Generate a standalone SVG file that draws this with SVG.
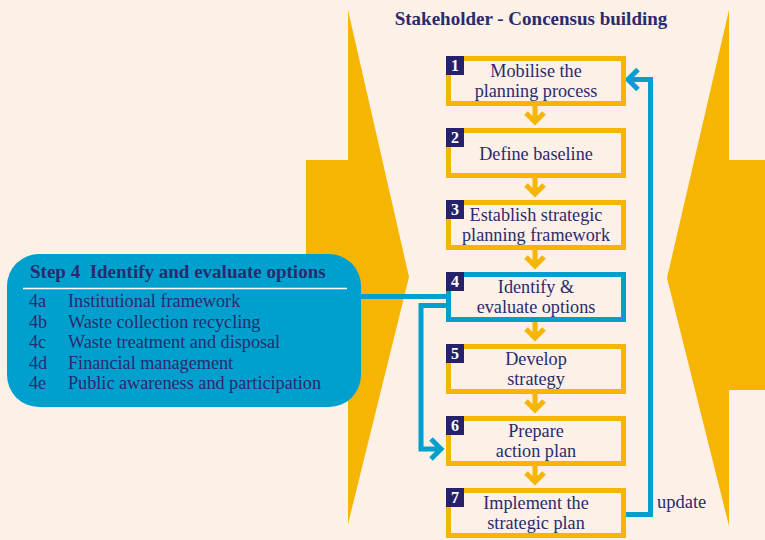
<svg xmlns="http://www.w3.org/2000/svg" width="765" height="540" viewBox="0 0 765 540">
<style>
.bg{fill:#FDF0E6}
.yel{fill:#F6B500}
.box{fill:none;stroke:#F6B500;stroke-width:5}
.boxb{fill:none;stroke:#00A0CE;stroke-width:5}
.num{fill:#25226B}
.numt{fill:#FFFFFF;font-family:"Liberation Serif",serif;font-size:16px;font-weight:bold;text-anchor:middle}
.t{fill:#2B2A6E;font-family:"Liberation Serif",serif;font-size:18.2px;text-anchor:middle}
.chev{fill:none;stroke:#F6B500;stroke-width:5}
.con{fill:none;stroke:#00A0CE;stroke-width:5}
.lst{fill:#2B2A6E;font-family:"Liberation Serif",serif;font-size:18.2px}
</style>
<rect class="bg" x="0" y="0" width="765" height="540"/>
<g id="bg-shapes">
<polygon class="yel" points="348,10 409,277 348,524 348,394 306,394 306,160 348,160"/>
<polygon class="yel" points="729,10 729,160 765,160 765,390 729,390 729,526 667,278"/>
</g>
<text x="531" y="25" fill="#2B2A6E" font-family="Liberation Serif, serif" font-size="19" font-weight="bold" text-anchor="middle">Stakeholder - Concensus building</text>
<g id="step4-panel">
<rect x="7" y="254" width="354" height="153" rx="32" ry="32" fill="#00A0CE"/>
<text x="30" y="278" fill="#2B2A6E" font-family="Liberation Serif, serif" font-size="19" font-weight="bold" xml:space="preserve">Step 4  Identify and evaluate options</text>
<line x1="23" y1="288.5" x2="347" y2="288.5" stroke="#FFFFFF" stroke-width="1.6"/>
<text class="lst" x="29" y="307">4a</text><text class="lst" x="68" y="307">Institutional framework</text>
<text class="lst" x="29" y="327.5">4b</text><text class="lst" x="68" y="327.5">Waste collection recycling</text>
<text class="lst" x="29" y="348">4c</text><text class="lst" x="68" y="348">Waste treatment and disposal</text>
<text class="lst" x="29" y="368.5">4d</text><text class="lst" x="68" y="368.5">Financial management</text>
<text class="lst" x="29" y="389">4e</text><text class="lst" x="68" y="389">Public awareness and participation</text>
</g>
<g id="connectors">
<path class="chev" d="M535,106 V122 M526,113 L535,122 L544,113"/>
<path class="chev" d="M535,178 V194 M526,185 L535,194 L544,185"/>
<path class="chev" d="M535,250 V266 M526,257 L535,266 L544,257"/>
<path class="chev" d="M535,322 V338 M526,329 L535,338 L544,329"/>
<path class="chev" d="M535,394 V410 M526,401 L535,410 L544,401"/>
<path class="chev" d="M535,466 V482 M526,473 L535,482 L544,473"/>
<path class="con" d="M360,296.5 H448"/>
<path class="con" d="M448,305.5 H421 V449 H440"/>
<path class="con" d="M431,439 L441,449 L431,459"/>
<path class="con" d="M626,514.5 H650.5 V79.5 H629"/>
<path class="con" d="M638,69.5 L628,79.5 L638,89.5"/>
</g>
<g id="step1"><rect class="box" x="448.5" y="58.5" width="175" height="45"/><rect class="num" x="446" y="56" width="18" height="19"/><text class="numt" x="455" y="71">1</text><text class="t" x="536" y="77">Mobilise the</text><text class="t" x="536" y="97">planning process</text></g>
<g id="step2"><rect class="box" x="448.5" y="130.5" width="175" height="45"/><rect class="num" x="446" y="128" width="18" height="19"/><text class="numt" x="455" y="143">2</text><text class="t" x="536" y="160">Define baseline</text></g>
<g id="step3"><rect class="box" x="448.5" y="202.5" width="175" height="45"/><rect class="num" x="446" y="200" width="18" height="19"/><text class="numt" x="455" y="215">3</text><text class="t" x="536" y="221">Establish strategic</text><text class="t" x="536" y="241">planning framework</text></g>
<g id="step4"><rect class="boxb" x="448.5" y="274.5" width="175" height="45"/><rect class="num" x="446" y="272" width="18" height="19"/><text class="numt" x="455" y="287">4</text><text class="t" x="536" y="293">Identify &amp;</text><text class="t" x="536" y="313">evaluate options</text></g>
<g id="step5"><rect class="box" x="448.5" y="346.5" width="175" height="45"/><rect class="num" x="446" y="344" width="18" height="19"/><text class="numt" x="455" y="359">5</text><text class="t" x="536" y="365">Develop</text><text class="t" x="536" y="385">strategy</text></g>
<g id="step6"><rect class="box" x="448.5" y="418.5" width="175" height="45"/><rect class="num" x="446" y="416" width="18" height="19"/><text class="numt" x="455" y="431">6</text><text class="t" x="536" y="437">Prepare</text><text class="t" x="536" y="457">action plan</text></g>
<g id="step7"><rect class="box" x="448.5" y="490.5" width="175" height="45"/><rect class="num" x="446" y="488" width="18" height="19"/><text class="numt" x="455" y="503">7</text><text class="t" x="536" y="509">Implement the</text><text class="t" x="536" y="529">strategic plan</text></g>
<text x="657" y="508" fill="#2B2A6E" font-family="Liberation Serif, serif" font-size="18.5">update</text>
</svg>
